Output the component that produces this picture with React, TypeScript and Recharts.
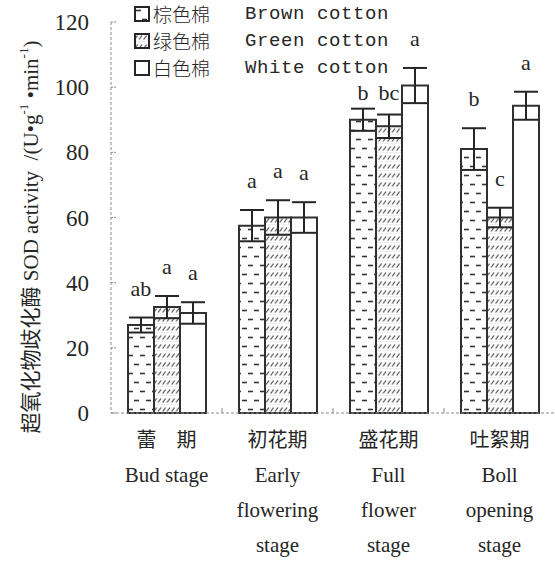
import React from "react";
import {
  BarChart,
  Bar,
  XAxis,
  YAxis,
  ErrorBar,
  LabelList,
  Legend,
} from "recharts";

// growth stages (x categories)
const stageCn = ["蕾\u3000期", "初花期", "盛花期", "吐絮期"];
const stageEn = [
  ["Bud stage"],
  ["Early", "flowering", "stage"],
  ["Full", "flower", "stage"],
  ["Boll", "opening", "stage"],
];

// SOD activity, U·g-1·min-1
const brown = [27, 57.5, 90, 81];
const brownErr = [2.3, 4.8, 3.4, 6.4];
const green = [32.5, 60, 88, 60];
const greenErr = [3.4, 5.3, 3.6, 3];
const white = [30.7, 60, 100.5, 94.3];
const whiteErr = [3.3, 4.7, 5.4, 4.3];

// significance letters
const brownSig = ["ab", "a", "b", "b"];
const greenSig = ["a", "a", "bc", "c"];
const whiteSig = ["a", "a", "a", "a"];

const yTicks = [0, 20, 40, 60, 80, 100, 120];

const seriesCn = ["棕色棉", "绿色棉", "白色棉"];
const seriesEn = ["Brown cotton", "Green cotton", "White cotton"];
const seriesFill = ["url(#pat-brown)", "url(#pat-green)", "#fff"];

const data = stageCn.map((s, i) => ({
  stage: s,
  brown: brown[i],
  brownErr: brownErr[i],
  green: green[i],
  greenErr: greenErr[i],
  white: white[i],
  whiteErr: whiteErr[i],
}));

const W = 555;
const H = 562;
const LEFT = 111;
const TOP = 22;
const XAXIS_H = 149;
const BAND = (W - LEFT) / stageCn.length;
// legend occupies the top-left corner, letters below it must not climb into it
const LEGEND_RIGHT = 395;
const LEGEND_BOTTOM = 82;
const SERIF = "'Liberation Serif', 'Times New Roman', 'Noto Sans CJK SC', serif";
const MONO = "'Liberation Mono', 'DejaVu Sans Mono', monospace";
const AXIS_GRAY = "#8a8a8a";
const INK = "#262626";

// y ticks: number left of the axis, short dash pointing into the plot
const renderYTick = (props: any) => {
  const { y, payload } = props;
  return (
    <g key={`yt-${payload.value}`}>
      <line x1={LEFT} x2={LEFT + 6} y1={y} y2={y} stroke={AXIS_GRAY} strokeDasharray="2 1" />
      <text
        x={LEFT - 22}
        y={y + 8}
        textAnchor="end"
        style={{ fontFamily: SERIF, fontSize: 23, fill: INK }}
      >
        {payload.value}
      </text>
    </g>
  );
};

const renderXTick = (props: any) => {
  const { x, y, index } = props;
  const en = stageEn[index] || [];
  return (
    <g key={`xt-${index}`}>
      {index < stageCn.length - 1 && (
        <line x1={x + BAND / 2} x2={x + BAND / 2} y1={y} y2={y - 5} stroke={AXIS_GRAY} />
      )}
      <text textAnchor="middle" style={{ fontFamily: SERIF, fontSize: 20, fill: INK }}>
        <tspan x={x} y={y + 34}>{stageCn[index]}</tspan>
        {en.map((l, k) => (
          <tspan key={k} x={x} y={y + 69 + k * 35} style={{ fontSize: 21 }}>
            {l}
          </tspan>
        ))}
      </text>
    </g>
  );
};

const YLabel = () => {
  const cx = 31;
  const cy = 237;
  return (
    <text
      x={cx}
      y={cy}
      transform={`rotate(-90, ${cx}, ${cy})`}
      textAnchor="middle"
      dominantBaseline="central"
      style={{ fontFamily: SERIF, fontSize: 21, fill: INK }}
    >
      超氧化物歧化酶 SOD activity {"\u00a0"}/(U•g
      <tspan dy={-8} style={{ fontSize: 13 }}>-1</tspan>
      <tspan dy={8}> •min</tspan>
      <tspan dy={-8} style={{ fontSize: 13 }}>-1</tspan>
      <tspan dy={8}>)</tspan>
    </text>
  );
};

const sigLabel = (letters: string[], vals: number[], errs: number[]) => (props: any) => {
  const { x, y, width, height, index } = props;
  const v = vals[index];
  const perUnit = Number(height) / v;
  const top = Number(y) - errs[index] * perUnit;
  const cx = Number(x) + Number(width) / 2;
  let base = top - 22;
  if (cx < LEGEND_RIGHT && base - 16 < LEGEND_BOTTOM) base = LEGEND_BOTTOM + 18;
  return (
    <text x={cx} y={base} textAnchor="middle" style={{ fontFamily: SERIF, fontSize: 22, fill: INK }}>
      {letters[index]}
    </text>
  );
};

const LegendBox = () => (
  <div style={{ color: INK }}>
    {seriesCn.map((cn, i) => (
      <div key={cn} style={{ display: "flex", alignItems: "center", height: 27 }}>
        <svg width={16} height={16} style={{ marginRight: 3 }}>
          <rect x={1} y={1} width={14} height={14} fill={seriesFill[i]} stroke={INK} strokeWidth={2} />
        </svg>
        <span style={{ width: 92, fontSize: 19, fontFamily: "'Noto Sans CJK SC', sans-serif", fontWeight: 300 }}>
          {cn}
        </span>
        <span style={{ fontFamily: MONO, fontSize: 19, letterSpacing: 0.6 }}>{seriesEn[i]}</span>
      </div>
    ))}
  </div>
);

export default function App() {
  const errStyle = { stroke: INK, strokeWidth: 2 };
  const barStroke = { stroke: "#303030", strokeWidth: 2 };
  return (
    <div style={{ position: "absolute", left: 0, top: 0, width: W, height: H, background: "#fff" }}>
      <BarChart
        width={W}
        height={H}
        data={data}
        margin={{ top: TOP, right: 0, left: 0, bottom: 0 }}
        barGap={0}
        barSize={26}
      >
        <defs>
          <pattern id="pat-brown" patternUnits="userSpaceOnUse" width={12} height={18}>
            <rect width={12} height={18} fill="#fff" />
            <line x1={2} x2={7} y1={4.5} y2={4.5} stroke="#333" strokeWidth={1.6} />
            <line x1={8} x2={12} y1={13.5} y2={13.5} stroke="#333" strokeWidth={1.6} />
            <line x1={0} x2={1} y1={13.5} y2={13.5} stroke="#333" strokeWidth={1.6} />
          </pattern>
          <pattern id="pat-green" patternUnits="userSpaceOnUse" width={4.5} height={9}>
            <rect width={4.5} height={9} fill="#fff" />
            <line x1={0.6} y1={6.5} x2={3.6} y2={2.5} stroke="#444" strokeWidth={1.2} />
            <line x1={0} x2={4.5} y1={8.5} y2={8.5} stroke="#ccc" strokeWidth={0.6} strokeDasharray="1 1" />
          </pattern>
        </defs>
        <XAxis
          dataKey="stage"
          height={XAXIS_H}
          tickLine={false}
          tickSize={0}
          tickMargin={0}
          axisLine={{ stroke: AXIS_GRAY, strokeDasharray: "3 2" }}
          tick={renderXTick}
          interval={0}
        />
        <YAxis
          width={LEFT}
          domain={[0, 120]}
          ticks={yTicks}
          interval={0}
          tickLine={false}
          tickSize={0}
          axisLine={{ stroke: AXIS_GRAY, strokeDasharray: "3 2" }}
          tick={renderYTick}
          label={{ content: YLabel }}
        />
        <Legend
          layout="vertical"
          verticalAlign="middle"
          align="center"
          wrapperStyle={{ top: 0, left: 134, width: "auto" }}
          content={<LegendBox />}
        />
        <Bar dataKey="brown" fill="url(#pat-brown)" {...barStroke} isAnimationActive={false}>
          <ErrorBar dataKey="brownErr" width={12} {...errStyle} />
          <LabelList dataKey="brown" content={sigLabel(brownSig, brown, brownErr)} />
        </Bar>
        <Bar dataKey="green" fill="url(#pat-green)" {...barStroke} isAnimationActive={false}>
          <ErrorBar dataKey="greenErr" width={12} {...errStyle} />
          <LabelList dataKey="green" content={sigLabel(greenSig, green, greenErr)} />
        </Bar>
        <Bar dataKey="white" fill="#fff" {...barStroke} isAnimationActive={false}>
          <ErrorBar dataKey="whiteErr" width={12} {...errStyle} />
          <LabelList dataKey="white" content={sigLabel(whiteSig, white, whiteErr)} />
        </Bar>
      </BarChart>
    </div>
  );
}
